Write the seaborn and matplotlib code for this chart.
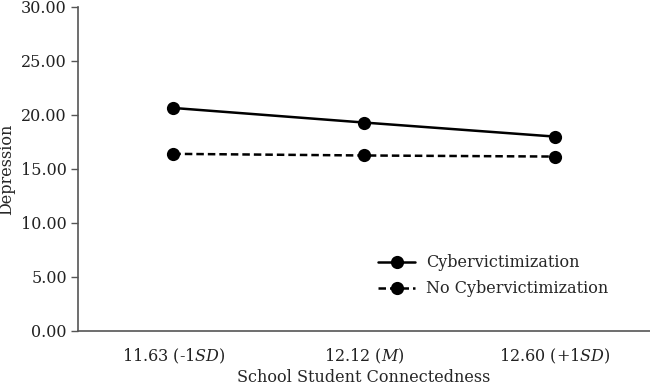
import pandas as pd
import seaborn as sns
import matplotlib.pyplot as plt
import matplotlib

# values
levels = ["11.63 (-1$\\mathit{SD}$)", "12.12 ($\\mathit{M}$)", "12.60 (+1$\\mathit{SD}$)"]
cyber = [20.65, 19.3, 18.0]
no_cyber = [16.4, 16.25, 16.15]
groups = ["Cybervictimization", "No Cybervictimization"]
yticks = [0, 5, 10, 15, 20, 25, 30]

df = pd.DataFrame({
    "level": levels * 2,
    "depression": cyber + no_cyber,
    "group": [groups[0]] * 3 + [groups[1]] * 3,
})

sns.set_style("white")
matplotlib.rcParams["font.family"] = ["DejaVu Serif"]
matplotlib.rcParams["mathtext.fontset"] = "custom"
matplotlib.rcParams["mathtext.it"] = "DejaVu Serif:italic"
matplotlib.rcParams["mathtext.rm"] = "DejaVu Serif"

fig = plt.figure(figsize=(6.5, 3.88), dpi=100)
ax = fig.add_axes([0.12, 0.147, 0.88, 0.835])

sns.lineplot(data=df, x="level", y="depression", hue="group", style="group",
             palette=["black", "black"], markers=["o", "o"],
             dashes=[(None, None), (3, 1.6)], markersize=9.5, linewidth=1.8,
             markeredgewidth=0, ax=ax, sort=False)

ax.set_xlim(-0.5, 2.5)
ax.set_ylim(0, 30)
ax.set_yticks(yticks)
ax.set_yticklabels([f"{v:.2f}" for v in yticks])
ax.set_xlabel("School Student Connectedness", fontsize=11.5, labelpad=2)
ax.set_ylabel("Depression", fontsize=11.5, labelpad=4)
ax.tick_params(axis="both", labelsize=11.5, colors="#222222")
ax.tick_params(axis="y", left=True, length=5, width=1, color="#555555", pad=3)
ax.tick_params(axis="x", bottom=False, pad=8)

for side in ["top", "right"]:
    ax.spines[side].set_visible(False)
for side in ["left", "bottom"]:
    ax.spines[side].set_color("#555555")
    ax.spines[side].set_linewidth(1.2)

leg = ax.legend(loc="lower left", bbox_to_anchor=(0.5, 0.06), frameon=False,
                fontsize=11.5, handlelength=2.3, handletextpad=0.7,
                labelspacing=0.55, title=None)

fig.savefig("out.png", dpi=100)
